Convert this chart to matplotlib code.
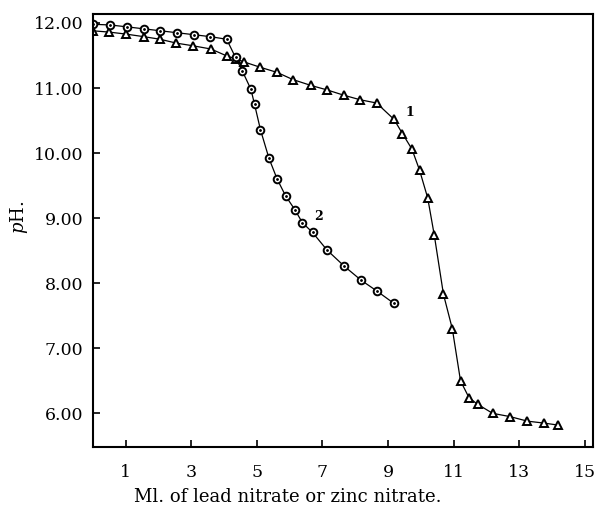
import matplotlib.pyplot as plt
import numpy as np

# Curve 1: triangles
x1 = [0.0, 0.5, 1.0, 1.55, 2.05, 2.55, 3.05, 3.6, 4.1, 4.35, 4.62, 5.1, 5.62, 6.1, 6.65,
      7.15, 7.65, 8.15, 8.65, 9.18, 9.44, 9.73, 9.96, 10.21, 10.41, 10.69, 10.96, 11.21,
      11.47, 11.73, 12.19, 12.72, 13.25, 13.76, 14.18]
y1 = [11.88, 11.86, 11.83, 11.79, 11.75, 11.69, 11.65, 11.60, 11.49, 11.45, 11.40, 11.32,
      11.24, 11.13, 11.04, 10.97, 10.89, 10.82, 10.77, 10.52, 10.30, 10.06, 9.74, 9.31,
      8.74, 7.83, 7.30, 6.50, 6.24, 6.14, 6.00, 5.95, 5.88, 5.85, 5.82]

# Curve 2: circles
x2 = [0.0, 0.52, 1.05, 1.56, 2.06, 2.57, 3.08, 3.58, 4.08, 4.35, 4.56, 4.82, 4.93, 5.11,
      5.37, 5.62, 5.88, 6.16, 6.39, 6.7, 7.14, 7.67, 8.17, 8.66, 9.18]
y2 = [11.98, 11.97, 11.94, 11.91, 11.88, 11.85, 11.82, 11.79, 11.75, 11.47, 11.26, 10.98,
      10.75, 10.36, 9.92, 9.60, 9.34, 9.13, 8.93, 8.78, 8.51, 8.26, 8.05, 7.88, 7.69]

xticks = [1, 3, 5, 7, 9, 11, 13, 15]
yticks = [6, 7, 8, 9, 10, 11, 12]

plt.rcParams['font.family'] = ['DejaVu Serif']
plt.rcParams['mathtext.fontset'] = 'dejavuserif'

fig = plt.figure(figsize=(5.99, 5.14), dpi=100)
ax = fig.add_axes([0.155, 0.130, 0.835, 0.843])

ax.plot(x1, y1, color='black', linewidth=0.9, marker='^', markersize=6,
        markerfacecolor='white', markeredgecolor='black', markeredgewidth=1.4)
ax.plot(x2, y2, color='black', linewidth=0.9, marker='o', markersize=5.5,
        markerfacecolor='white', markeredgecolor='black', markeredgewidth=1.4)
ax.plot(x2, y2, linestyle='none', marker='.', markersize=2, color='black')

ax.text(9.68, 10.62, '1', fontsize=9, fontweight='bold', ha='center', va='center')
ax.text(6.88, 9.02, '2', fontsize=9, fontweight='bold', ha='center', va='center')

ax.set_xlim(0, 15.25)
ax.set_ylim(5.48, 12.14)
ax.set_xticks(xticks)
ax.set_xticklabels([str(t) for t in xticks])
ax.set_yticks(yticks)
ax.set_yticklabels(['%.2f' % t for t in yticks])
ax.tick_params(direction='in', length=5, width=1.2, labelsize=12.5)
ax.tick_params(axis='x', pad=12)
ax.tick_params(axis='y', pad=7)

for s in ax.spines.values():
    s.set_linewidth(1.5)

ax.set_xlabel('Ml. of lead nitrate or zinc nitrate.', fontsize=13)
ax.xaxis.set_label_coords(0.39, -0.095)
ax.set_ylabel('$p$H.', fontsize=13)
ax.yaxis.set_label_coords(-0.125, 0.53)

fig.savefig('out.png', dpi=100)
